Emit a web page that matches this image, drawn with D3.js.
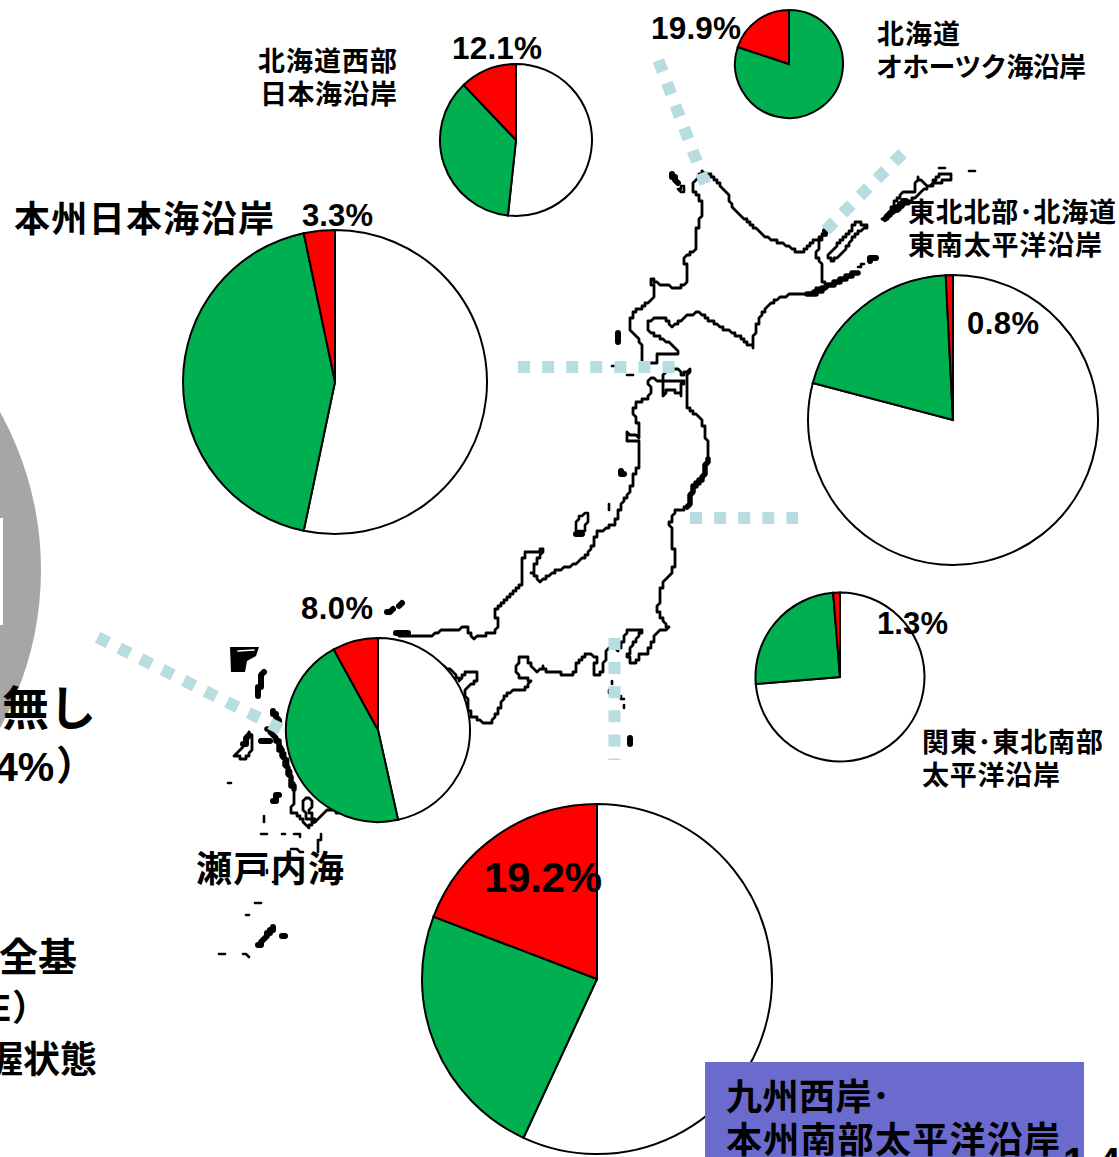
<!DOCTYPE html>
<html>
<head>
<meta charset="utf-8">
<script src="https://cdn.jsdelivr.net/npm/d3@7/dist/d3.min.js"></script>
<style>
html,body{margin:0;padding:0;background:#fff;overflow:hidden}
svg{display:block}
.jp{font-family:"Noto Sans CJK JP",sans-serif;font-weight:700;fill:#000}
.num{font-family:"Liberation Sans",Arial,sans-serif;font-weight:700;fill:#000}
</style>
</head>
<body>
<svg id="c" width="1119" height="1157"></svg>
<script>
// ---- pie data (percent), read clockwise from 12 o'clock: white, green, red
const regions = ["北海道オホーツク海沿岸","北海道西部日本海沿岸","本州日本海沿岸","東北北部・北海道東南太平洋沿岸","関東・東北南部太平洋沿岸","瀬戸内海","九州西岸・本州南部太平洋沿岸"];
const whiteShare = [0, 51.7, 53.3, 79.1, 73.7, 46.5, 56.9];
const greenShare = [80.1, 36.2, 43.4, 20.1, 25.0, 45.5, 23.9];
const redShare   = [19.9, 12.1, 3.3, 0.8, 1.3, 8.0, 19.2];
const sliceColors = ["#ffffff", "#00b050", "#ff0000"];
const pieX = [789, 516, 335, 953, 840, 378, 597];
const pieY = [64, 140, 382, 420, 677, 730, 979];
const pieR = [54, 76, 152, 145, 84.5, 92, 175];

// ---- map outlines (page pixels)
const hokkaido = [[703,172],[710,175],[717,182],[727,193],[732,207],[740,215],[750,223],[763,235],[777,242],[787,245],[797,252],[803,252],[813,242],[822,235],[818,245],[817,257],[822,265],[822,282],[830,285],[820,288],[807,295],[790,295],[780,297],[767,307],[760,317],[755,330],[753,347],[747,343],[740,337],[727,330],[713,322],[700,313],[690,314],[677,323],[672,327],[665,318],[655,317],[648,323],[650,333],[660,338],[670,343],[679,352],[672,355],[658,354],[657,363],[642,363],[642,347],[637,337],[630,330],[632,313],[643,307],[653,298],[655,288],[650,283],[650,278],[662,285],[678,288],[687,282],[685,257],[695,250],[697,230],[702,213],[700,197],[693,190],[693,183],[703,172]];
const honshuSea = [[400,637],[430,636],[443,630],[467,628],[473,638],[493,633],[498,627],[495,610],[512,593],[522,583],[522,560],[525,553],[543,550],[537,560],[532,573],[540,582],[553,572],[577,563],[587,555],[593,545],[597,533],[613,525],[618,518],[620,507],[630,492],[635,472],[640,463],[640,442],[627,440],[627,433],[640,437],[638,423],[632,410],[638,402],[647,398],[652,390],[648,383],[650,378],[662,381],[665,371],[677,368],[683,375],[689,370],[688,377],[687,400],[688,408],[700,418],[705,430],[707,443],[708,458],[705,470],[703,478],[693,487],[690,500],[688,508],[675,510],[670,523],[672,538],[675,560],[672,573],[663,582],[659,597],[658,612],[663,620],[668,628],[657,632],[652,643],[648,652],[640,655],[635,662],[630,662],[628,655],[632,645],[637,638],[642,632],[640,630],[628,630],[623,637],[622,645],[618,650],[608,647],[605,660],[603,670],[597,676],[593,672],[597,657],[587,653],[578,663],[573,675],[557,673],[547,672],[543,667],[537,672],[530,665],[528,657],[520,657],[515,670],[520,678],[530,680],[527,688],[510,692],[503,698],[500,707],[495,717],[490,723],[482,722],[473,717],[468,707],[465,690],[478,678],[477,672],[465,672],[460,680],[450,669],[440,665]];
const mutsuBay = [[662,381],[662,397],[668,389],[677,392],[681,395],[683,381],[662,381]];
const sanriku = [[708,458],[705,470],[703,478],[693,487],[690,500],[688,508]];
const nemuro = [[807,295],[815,293],[830,285],[843,279],[857,272]];
const etorofu = [[952,173],[940,173],[930,187],[917,178],[915,193],[902,193],[883,220],[902,207],[920,193],[933,183],[950,180],[952,173]];
const kunashiri = [[855,222],[868,225],[855,235],[843,252],[832,262],[828,255],[842,240],[850,232],[855,222]];
const kyushuCoast = [[270,730],[278,740],[287,760],[292,780],[295,800],[290,810],[300,817],[308,827],[320,817],[327,810],[340,812]];
const kyushuThick = [[268,728],[278,742],[285,762],[290,778],[294,790]];
const kyushuInner = [[305,798],[312,800],[310,812],[315,822],[306,818],[303,806],[305,798]];
const gotoIslands = [[250,733],[243,747],[235,755],[245,760],[253,747],[250,733]];
const thickIslets = [
  [[672,173],[677,182]], [[617,333],[617,341]], [[621,471],[623,475]], [[575,535],[581,533]],
  [[263,672],[257,697]], [[272,710],[279,722]], [[262,742],[270,741]], [[278,795],[273,802]],
  [[273,928],[259,945]], [[283,935],[285,936]], [[388,612],[394,609]], [[400,605],[403,603]], [[875,257],[870,260]],
  [[395,634],[408,634]], [[630,738],[631,743]], [[886,218],[905,200]], [[825,235],[826,232]], [[248,735],[244,745]]
];
const thinIslets = [
  [[587,512],[578,518],[575,530],[584,531],[587,522],[587,512]],
  [[682,186],[685,190],[681,192],[678,189],[682,186]],
  [[227,783],[231,782]], [[265,816],[265,821]], [[261,833],[267,833]], [[281,833],[286,833]],
  [[294,835],[299,834],[300,838]], [[322,835],[318,842],[317,852]], [[290,848],[296,850],[303,852]],
  [[267,870],[267,874]], [[272,883],[276,881]], [[254,902],[260,902]], [[245,916],[250,916]],
  [[220,953],[225,953]], [[244,954],[250,957]], [[612,681],[612,685]], [[608,690],[608,694]],
  [[620,697],[624,699]], [[623,705],[623,709]], [[610,504],[610,509]], [[613,367],[615,367]],
  [[628,375],[633,375]], [[859,266],[863,265]], [[970,170],[974,170]], [[938,168],[945,168]]
];
const tsushima = [[230,647],[259,647],[256,656],[247,661],[245,672],[231,672]];

// ---- dotted connectors (page pixels)
const connectors = [
  [[518,367],[675,367]],
  [[690,518],[798,518]],
  [[614.5,638],[614.5,760]],
  [[825.8,230.2],[902.5,153.5]],
  [[658.4,60.4],[705.2,183.6]],
  [[97.6,637.3],[282.4,729.7]]
];

const svg = d3.select("#c");
const px = d3.scaleIdentity();
const coast = d3.line().x(d => px(d[0])).y(d => px(d[1]));

// The reference map is a low-resolution bitmap: walk each outline and snap it to a coarse grid.
const cell = 3;
function stair(p){
  const out = [];
  for(let i=0;i<p.length-1;i++){
    const [a,b]=[p[i],p[i+1]];
    const n=Math.max(1,Math.ceil(Math.hypot(b[0]-a[0],b[1]-a[1])/1.5));
    for(let k=0;k<=n;k++){
      const q=[Math.round((a[0]+(b[0]-a[0])*k/n)/cell)*cell,Math.round((a[1]+(b[1]-a[1])*k/n)/cell)*cell];
      const l=out[out.length-1];
      if(!l||l[0]!==q[0]||l[1]!==q[1]) out.push(q);
    }
  }
  return out;
}
const blur = svg.append("defs").append("filter").attr("id","soft").attr("x","-5%").attr("y","-5%").attr("width","110%").attr("height","110%");
blur.append("feGaussianBlur").attr("stdDeviation",0.55);

// grey circle at the left edge
svg.append("circle").attr("cx",-284).attr("cy",570).attr("r",325).attr("fill","#a6a6a6");
svg.append("rect").attr("x",0).attr("y",518).attr("width",3).attr("height",107).attr("fill","#fff");

// map
const mapG = svg.append("g").attr("fill","none").attr("stroke","#000").attr("stroke-linejoin","round").attr("stroke-linecap","round").attr("filter","url(#soft)");
[hokkaido,honshuSea,mutsuBay,etorofu,kunashiri,kyushuCoast,kyushuInner,gotoIslands].forEach(p=>
  mapG.append("path").attr("d",coast(stair(p))).attr("stroke-width",2.8));
[sanriku,nemuro,kyushuThick].forEach(p=>
  mapG.append("path").attr("d",coast(stair(p))).attr("stroke-width",5.5));
thickIslets.forEach(p=>mapG.append("path").attr("d",coast(stair(p))).attr("stroke-width",6));
thinIslets.forEach(p=>mapG.append("path").attr("d",coast(stair(p))).attr("stroke-width",2.6));
mapG.append("path").attr("d",coast(tsushima)+"Z").attr("fill","#000").attr("stroke","none");
mapG.append("path").attr("d",coast([[238,651],[254,650]])).attr("stroke","#fff").attr("stroke-width",1.6);

// connectors
const connG = svg.append("g").attr("fill","none").attr("stroke","#b7dde0").attr("stroke-width",12).attr("stroke-dasharray","12 12.1");
connectors.forEach(p=>connG.append("path").attr("d",coast(p)));

// pies
const pie = d3.pie().sort(null).value(d=>d);
regions.forEach((name,i)=>{
  const arc = d3.arc().innerRadius(0).outerRadius(pieR[i]);
  const g = svg.append("g").attr("transform",`translate(${pieX[i]},${pieY[i]})`).attr("aria-label",name);
  g.selectAll("path").data(pie([whiteShare[i],greenShare[i],redShare[i]])).join("path")
    .attr("d",arc).attr("fill",(d,k)=>sliceColors[k]).attr("stroke","#000").attr("stroke-width",2);
});

// blue box
svg.append("rect").attr("x",705).attr("y",1062).attr("width",379).attr("height",95).attr("fill","#6b6bce");

// text: x = left, cy = vertical centre, w = target width
function label(cls,t,x,cy,size,w){
  const n = svg.append("text").attr("class",cls).attr("x",x).attr("y",cy+size*0.36).attr("font-size",size).text(t);
  if(w) n.attr("textLength",w).attr("lengthAdjust","spacing");
  return n;
}
const jp = (t,x,cy,size,w)=>label("jp",t,x,cy,size,w);
const num = (t,x,cy,size,w)=>label("num",t,x,cy,size,w);
const pctLabels = ["19.9%","12.1%","3.3%","0.8%","1.3%","8.0%","19.2%"];
num(pctLabels[0],651,28,31.5,90);
num(pctLabels[1],452,48,31.5,90);
num(pctLabels[2],302,215,31,71);
num(pctLabels[3],967,323,31,72);
num(pctLabels[4],877,623,31,71);
num(pctLabels[5],301,608,31,72);
num(pctLabels[6],484,877,42,118);

jp("北海道西部",258,61,27,139);
jp("日本海沿岸",260,94,27,137);
jp("北海道",877,34,27,83);
jp("オホーツク海沿岸",876,67,27,210);
jp("本州日本海沿岸",14,219,36,260);
jp("東北北部･北海道",908,212,27,208);
jp("東南太平洋沿岸",908,245,27,194);
jp("関東･東北南部",922,742,27,181);
jp("太平洋沿岸",922,775,27,138);
jp("瀬戸内海",196,869,36,148);
jp("九州西岸･",726,1097,36,164);
jp("本州南部太平洋沿岸",726,1140,36,334);

// clipped text from the neighbouring part of the slide
jp("無し",2,708,47);
num("4%",-5,766,41);
jp("）",56,766,40);
jp("全基",-1,957,39);
num("E",-13,1008,36);
jp("）",12,1008,36);
jp("握状態",-14,1060,37);
num("14",1063,1162,40).attr("letter-spacing",13);
</script>
</body>
</html>
